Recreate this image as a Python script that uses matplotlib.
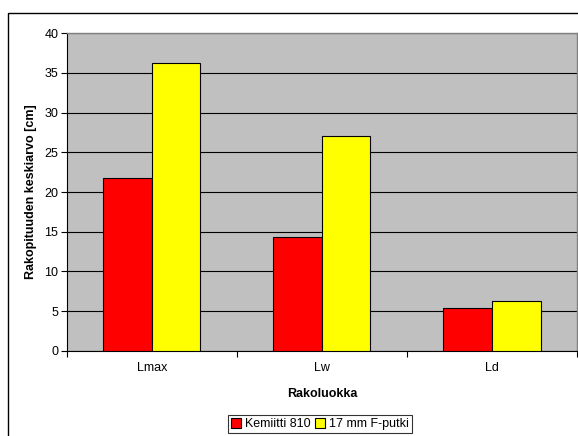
import matplotlib
matplotlib.use("Agg")
import matplotlib.pyplot as plt
import numpy as np
from matplotlib.patches import Rectangle

categories = ["Lmax", "Lw", "Ld"]
series_names = ["Kemiitti 810", "17 mm F-putki"]
kemiitti = [21.8, 14.3, 5.35]
fputki = [36.3, 27.0, 6.3]
yticks = [0, 5, 10, 15, 20, 25, 30, 35, 40]

plt.rcParams['font.family'] = ['Liberation Sans', 'DejaVu Sans']

W, H = 578, 436
fig = plt.figure(figsize=(W / 100, H / 100), dpi=100)
ax = fig.add_axes([66.7 / W, 1 - 350.7 / H, (577 - 66.7) / W, (350.7 - 33.3) / H])
ax.set_facecolor('#c0c0c0')

x = np.arange(len(categories))
bw = 0.286
ax.bar(x - bw / 2, kemiitti, bw, color='#ff0000', edgecolor='black', linewidth=0.8, zorder=3, label=series_names[0])
ax.bar(x + bw / 2, fputki, bw, color='#ffff00', edgecolor='black', linewidth=0.8, zorder=3, label=series_names[1])

ax.set_xlim(-0.5, len(categories) - 0.5)
ax.set_ylim(0, 40)
ax.set_yticks(yticks)
ax.set_yticklabels([str(v) for v in yticks], fontsize=9)
ax.yaxis.grid(True, color='black', linewidth=0.8, zorder=1)
ax.set_axisbelow(True)

ax.set_xticks(x)
ax.set_xticklabels(categories, fontsize=9)
ax.tick_params(axis='x', length=0, pad=8)
ax.set_xticks(np.arange(len(categories) + 1) - 0.5, minor=True)
ax.tick_params(axis='x', which='minor', length=4, width=0.8, direction='out')
ax.tick_params(axis='y', length=4, width=0.8, direction='out', pad=2)

for s in ['top', 'right']:
    ax.spines[s].set_color('#808080')
    ax.spines[s].set_linewidth(1.0)
for s in ['left', 'bottom']:
    ax.spines[s].set_color('black')
    ax.spines[s].set_linewidth(0.8)

ax.set_xlabel('Rakoluokka', fontsize=9, fontweight='bold', labelpad=10)
ax.set_ylabel('Rakopituuden keskiarvo [cm]', fontsize=9, fontweight='bold', labelpad=5)

# outer chart border
fig.patches.append(Rectangle((7.5 / W, -0.05), 1.1, 1 - 13 / H + 0.05, transform=fig.transFigure,
                             fill=False, edgecolor='black', linewidth=1.0, clip_on=False))

leg = fig.legend(loc='upper left', bbox_to_anchor=(227.7 / W, 1 - 415 / H), ncol=2, fontsize=9,
                 frameon=True, fancybox=False, handlelength=0.8, handleheight=0.8,
                 handletextpad=0.3, columnspacing=0.4, borderpad=0.25, borderaxespad=0)
leg.get_frame().set_edgecolor('black')
leg.get_frame().set_linewidth(0.8)

fig.savefig('out.png', dpi=100)
